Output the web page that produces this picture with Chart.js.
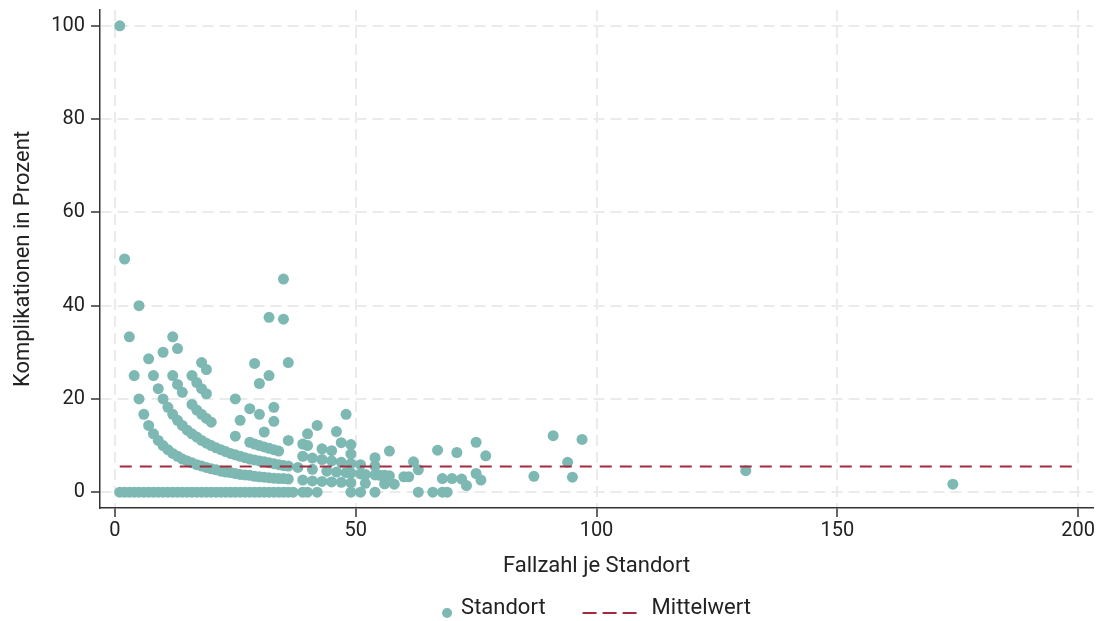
<!DOCTYPE html>
<html>
<head>
<meta charset="utf-8">
<script src="https://cdn.jsdelivr.net/npm/chart.js@4"></script>
<style>
  html, body { margin: 0; padding: 0; background: #fff; }
  #wrap { width: 1102px; height: 621px; }
</style>
</head>
<body>
<div id="wrap"><canvas id="chart" width="1102" height="621"></canvas></div>
<script>
// Fallzahl je Standort (x) and Komplikationen in Prozent (y)
const fallzahl = [
  // 0 %
  1,2,3,4,5,6,7,8,9,10,11,12,13,14,15,16,17,18,19,20,21,22,23,24,25,26,27,28,29,30,31,32,33,34,35,36,37,
  39,40,42,49,51,54,63,66,68,69,
  // lowest curve
  1,2,3,4,5,6,7,8,9,10,11,12,13,14,15,16,17,18,19,20,21,22,23,24,25,26,27,28,29,30,31,32,33,34,35,36,
  // second curve
  5,7,8,9,10,11,12,13,14,15,16,17,18,19,20,21,22,23,24,25,26,27,28,29,30,31,32,33,34,35,36,
  // third curve
  10,12,13,14,16,17,18,19,20,25,28,29,30,31,32,33,34,
  // upper points
  12,13,16,17,18,19,26,31,36,
  18,19,25,28,30,33,
  33,29,30,32,36,32,35,35,
  // larger sites
  38,39,39,39,40,40,41,41,41,42,43,43,43,44,45,45,45,46,46,47,47,47,48,48,
  49,49,49,49,49,51,51,52,52,54,54,54,55,56,56,57,57,58,60,61,62,63,67,68,
  70,71,72,73,75,75,76,77,87,91,94,95,97,131,174
];
const komplikationen = [
  0,0,0,0,0,0,0,0,0,0,0,0,0,0,0,0,0,0,0,0,0,0,0,0,0,0,0,0,0,0,0,0,0,0,0,0,0,
  0,0,0,0,0,0,0,0,0,0,
  100,50,33.3,25,20,16.7,14.3,12.5,11.1,10,9.1,8.3,7.7,7.1,6.7,6.3,5.9,5.6,5.3,5,4.8,4.5,4.3,4.2,4,3.8,3.7,3.6,3.4,3.3,3.2,3.1,3,2.9,2.9,2.8,
  40,28.6,25,22.2,20,18.2,16.7,15.4,14.3,13.3,12.5,11.8,11.1,10.5,10,9.5,9.1,8.7,8.3,8,7.7,7.4,7.1,6.9,6.7,6.5,6.3,6.1,5.9,5.7,5.6,
  30,25,23.1,21.4,18.8,17.6,16.7,15.8,15,12,10.7,10.3,10,9.7,9.4,9.1,8.8,
  33.3,30.8,25,23.5,22.2,21.1,15.4,12.9,11.1,
  27.8,26.3,20,17.9,16.7,15.2,
  18.2,27.6,23.3,25,27.8,37.5,37.1,45.7,
  5.3,2.6,7.7,10.3,10,12.5,2.4,4.9,7.3,14.3,2.3,7,9.3,4.5,2.2,6.7,8.9,4.3,13,2.1,6.4,10.6,4.2,16.7,
  2,4.1,6.1,8.2,10.2,3.9,5.9,1.9,3.8,3.7,5.6,7.4,3.6,1.8,3.6,3.5,8.8,1.7,3.3,3.3,6.5,4.8,9,2.9,
  2.9,8.5,2.8,1.4,4,10.7,2.6,7.8,3.4,12.1,6.4,3.2,11.3,4.6,1.7
];
const mittelwert = 5.5;
const mittelwertVon = 1;
const mittelwertBis = 200;
const xTicks = [0, 50, 100, 150, 200];
const yTicks = [0, 20, 40, 60, 80, 100];

const teal = "#7db8b3";
const rot = "#a02c3e";
const fontName = "Roboto, 'DejaVu Sans', sans-serif";

const punkte = fallzahl.map((x, i) => ({ x: x, y: komplikationen[i] }));

// legend drawn below the x title: dot + dashed line
const legendPlugin = {
  id: "untenLegende",
  afterDraw(chart) {
    const ctx = chart.ctx;
    const area = chart.chartArea;
    const cy = 608;
    ctx.save();
    ctx.font = "22px " + fontName;
    ctx.textBaseline = "middle";
    const w1 = ctx.measureText("Standort").width;
    const w2 = ctx.measureText("Mittelwert").width;
    const total = 10 + 9 + w1 + 37 + 54 + 15 + w2;
    let x = (area.left + area.right) / 2 - total / 2;
    ctx.beginPath();
    ctx.fillStyle = teal;
    ctx.arc(x + 5, cy + 5, 5, 0, Math.PI * 2);
    ctx.fill();
    x += 19;
    ctx.fillStyle = "#222";
    ctx.fillText("Standort", x, cy);
    x += w1 + 37;
    ctx.strokeStyle = rot;
    ctx.lineWidth = 2;
    ctx.setLineDash([14, 6]);
    ctx.beginPath();
    ctx.moveTo(x, cy + 5);
    ctx.lineTo(x + 54, cy + 5);
    ctx.stroke();
    ctx.setLineDash([]);
    x += 54 + 15;
    ctx.fillText("Mittelwert", x, cy);
    ctx.restore();
  }
};

const gitter = {
  color: "#ebebeb",
  lineWidth: 2,
  tickColor: "#333",
  tickLength: 9,
  tickWidth: 1.5,
  tickBorderDash: []
};
const rand = { display: true, color: "#333", width: 1.5, dash: [11, 6] };

const ctx = document.getElementById("chart").getContext("2d");
new Chart(ctx, {
  data: {
    datasets: [
      {
        type: "line",
        label: "Mittelwert",
        data: [{ x: mittelwertVon, y: mittelwert }, { x: mittelwertBis, y: mittelwert }],
        borderColor: rot,
        borderWidth: 2.2,
        borderDash: [12, 8],
        pointRadius: 0,
        fill: false,
        order: 0
      },
      {
        type: "scatter",
        label: "Standort",
        data: punkte,
        backgroundColor: teal,
        borderWidth: 0,
        pointRadius: 5.5,
        order: 1
      }
    ]
  },
  options: {
    responsive: false,
    animation: false,
    layout: { padding: { top: 10, right: 9, left: 0, bottom: 40 } },
    plugins: {
      legend: { display: false },
      tooltip: { enabled: false }
    },
    scales: {
      x: {
        type: "linear",
        min: -3.1,
        max: 203.1,
        afterBuildTicks: s => { s.ticks = xTicks.map(v => ({ value: v })); },
        afterFit: s => { s.height = 73; },
        grid: gitter,
        border: rand,
        ticks: { color: "#222", font: { family: fontName, size: 20 }, padding: 2 },
        title: {
          display: true,
          text: "Fallzahl je Standort",
          color: "#222",
          font: { family: fontName, size: 22 },
          padding: { top: 4, bottom: 1 }
        }
      },
      y: {
        type: "linear",
        min: -3.4,
        max: 103.4,
        afterBuildTicks: s => { s.ticks = yTicks.map(v => ({ value: v })); },
        afterFit: s => { s.width = 100; s.paddingTop = 0; s.paddingBottom = 0; },
        grid: gitter,
        border: rand,
        ticks: { color: "#222", font: { family: fontName, size: 20 }, padding: 6 },
        title: {
          display: true,
          text: "Komplikationen in Prozent",
          color: "#222",
          font: { family: fontName, size: 22 },
          padding: { top: 10, bottom: 4 }
        }
      }
    }
  },
  plugins: [legendPlugin]
});
</script>
</body>
</html>
